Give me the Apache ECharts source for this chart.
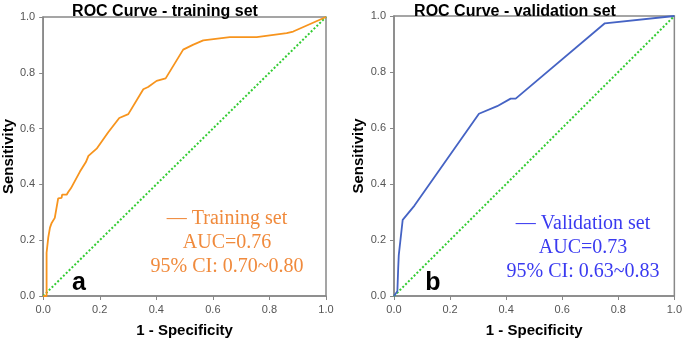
<!DOCTYPE html>
<html>
<head>
<meta charset="utf-8">
<script src="https://cdn.jsdelivr.net/npm/echarts@6/dist/echarts.min.js"></script>
<style>
  html, body { margin: 0; padding: 0; background: #fff; }
  #main { width: 685px; height: 343px; }
</style>
</head>
<body>
<div id="main"></div>
<script>
var chartDom = document.getElementById('main');
var myChart = echarts.init(chartDom);
var option;

// ROC points: [1 - specificity, sensitivity]
var trainingFpr = [0, 0.012, 0.012, 0.018, 0.024, 0.03, 0.041, 0.053, 0.059, 0.065, 0.067, 0.083, 0.088, 0.094, 0.098, 0.13, 0.151, 0.16, 0.189, 0.23, 0.269, 0.301, 0.354, 0.371, 0.401, 0.433, 0.495, 0.531, 0.566, 0.66, 0.755, 0.861, 0.884, 1];
var trainingTpr = [0, 0, 0.155, 0.21, 0.245, 0.262, 0.28, 0.35, 0.35, 0.352, 0.363, 0.363, 0.372, 0.372, 0.386, 0.446, 0.48, 0.502, 0.528, 0.587, 0.638, 0.652, 0.741, 0.749, 0.771, 0.78, 0.883, 0.901, 0.916, 0.928, 0.928, 0.942, 0.948, 1];

var validationFpr = [0, 0.012, 0.015, 0.017, 0.031, 0.073, 0.303, 0.368, 0.416, 0.434, 0.752, 1];
var validationTpr = [0, 0.017, 0.1, 0.146, 0.272, 0.323, 0.651, 0.678, 0.705, 0.705, 0.974, 1];

var refLine = [0, 1];

var titles = ['ROC Curve - training set', 'ROC Curve - validation set'];
var legendTraining = ['— Training set', 'AUC=0.76', '95% CI: 0.70~0.80'];
var legendValidation = ['— Validation set', 'AUC=0.73', '95% CI: 0.63~0.83'];

function pairs(xs, ys) {
  return xs.map(function (x, i) { return [x, ys[i]]; });
}

var axisCommon = {
  type: 'value',
  min: 0,
  max: 1,
  interval: 0.2,
  axisLine: { show: true, lineStyle: { color: '#888', width: 1.5 } },
  axisTick: { show: true, inside: false, length: 4, lineStyle: { color: '#888' } },
  axisLabel: {
    color: '#555',
    fontSize: 11,
    fontFamily: 'Liberation Sans',
    formatter: function (v) { return v.toFixed(1); }
  },
  splitLine: { show: false },
  nameLocation: 'middle',
  nameTextStyle: { color: '#000', fontSize: 15, fontWeight: 'bold', fontFamily: 'Liberation Sans' }
};

function xAx(idx) {
  return Object.assign({}, axisCommon, { gridIndex: idx, name: '1 - Specificity', nameGap: 27 });
}
function yAx(idx) {
  return Object.assign({}, axisCommon, { gridIndex: idx, name: 'Sensitivity', nameGap: 25 });
}

function legendTexts(lines, cx, baselines, color) {
  return lines.map(function (t, i) {
    return {
      type: 'text',
      x: cx,
      y: baselines[i],
      style: {
        text: t,
        fill: color,
        font: '20px "Liberation Serif"',
        textAlign: 'center',
        textVerticalAlign: 'bottom'
      }
    };
  });
}

option = {
  backgroundColor: '#fff',
  animation: false,
  title: [
    { text: titles[0], left: 160, top: -1, textAlign: 'center',
      textStyle: { fontSize: 16, fontWeight: 'bold', color: '#000', fontFamily: 'Liberation Sans' } },
    { text: titles[1], left: 510, top: -1, textAlign: 'center',
      textStyle: { fontSize: 16, fontWeight: 'bold', color: '#000', fontFamily: 'Liberation Sans' } }
  ],
  grid: [
    { left: 43, top: 17, width: 283, height: 282, show: true, borderColor: '#888', borderWidth: 1.5 },
    { left: 394, top: 16, width: 283, height: 282, show: true, borderColor: '#888', borderWidth: 1.5 }
  ],
  xAxis: [xAx(0), xAx(1)],
  yAxis: [yAx(0), yAx(1)],
  series: [
    {
      type: 'line', xAxisIndex: 0, yAxisIndex: 0,
      data: pairs(refLine, refLine), symbol: 'none',
      lineStyle: { color: '#33cc33', width: 2, type: 'dotted' }
    },
    {
      type: 'line', xAxisIndex: 0, yAxisIndex: 0,
      data: pairs(trainingFpr, trainingTpr), symbol: 'none',
      lineStyle: { color: '#f7941d', width: 1.8 }
    },
    {
      type: 'line', xAxisIndex: 1, yAxisIndex: 1,
      data: pairs(refLine, refLine), symbol: 'none',
      lineStyle: { color: '#33cc33', width: 2, type: 'dotted' }
    },
    {
      type: 'line', xAxisIndex: 1, yAxisIndex: 1,
      data: pairs(validationFpr, validationTpr), symbol: 'none',
      lineStyle: { color: '#4563c4', width: 1.8 }
    }
  ],
  graphic: legendTexts(legendTraining, 227, [229, 253, 277], '#f08a3c')
    .concat(legendTexts(legendValidation, 583, [234, 258, 282], '#3a3af0'))
    .concat([
      { type: 'text', x: 79, y: 296, style: { text: 'a', fill: '#000', font: 'bold 25px "Liberation Sans"', textAlign: 'center', textVerticalAlign: 'bottom' } },
      { type: 'text', x: 433, y: 296, style: { text: 'b', fill: '#000', font: 'bold 25px "Liberation Sans"', textAlign: 'center', textVerticalAlign: 'bottom' } }
    ])
};

option && myChart.setOption(option);
</script>
</body>
</html>
